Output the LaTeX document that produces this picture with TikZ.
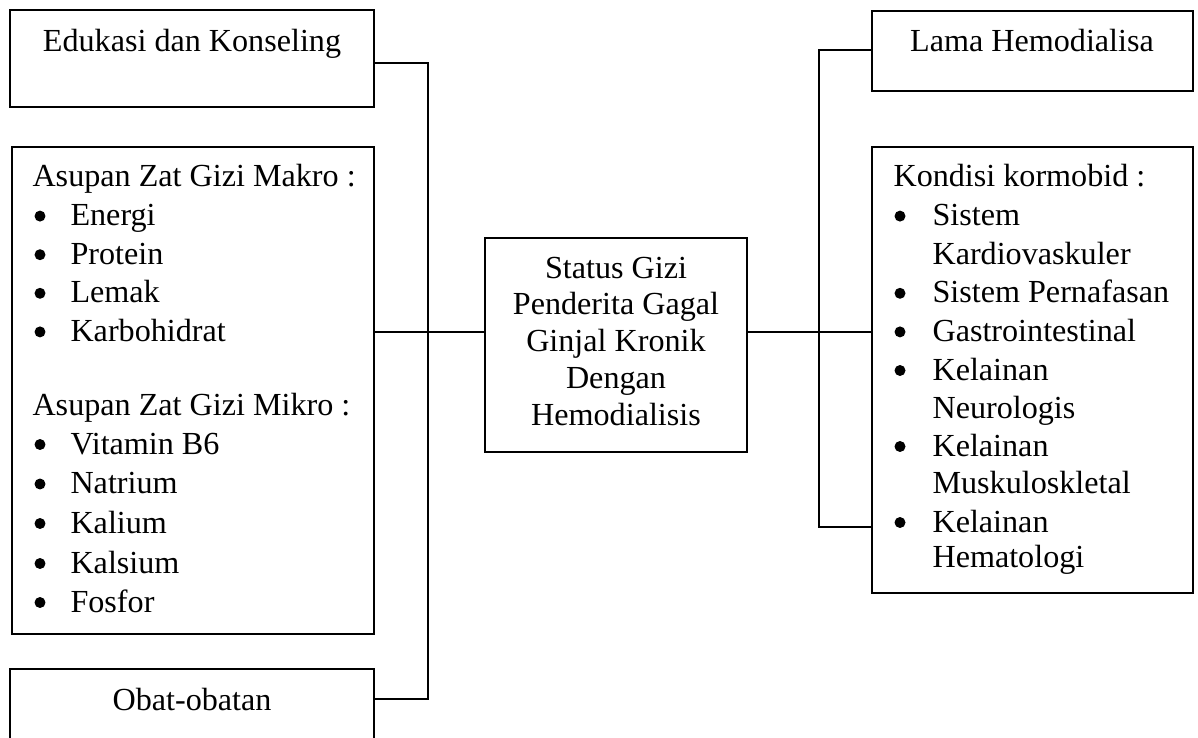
\documentclass[tikz,border=0pt]{standalone}
\usepackage{fontspec}
\setmainfont{Liberation Serif}
\usetikzlibrary{fit,calc}
\tikzset{
  box/.style={draw=black, line width=0.55pt, inner sep=0pt, fill=none},
  conn/.style={draw=black, line width=0.8pt, line join=miter},
  txt/.style={inner sep=0pt, font=\fontsize{12}{14}\selectfont},
  bul/.style={fill=black}
}
\begin{document}
\begin{tikzpicture}[x=0.3733pt,y=-0.3733pt]
\useasboundingbox (0,0) rectangle (1198,738);
\clip (0,0) rectangle (1198,738);
\fill[white] (0,0) rectangle (1198,738);

% boxes
\node[box, fit={(10,10) (374,107)}] (ed) {};
\node[box, fit={(12,147) (374,634)}] (as) {};
\node[box, fit={(10,669) (374,770)}] (ob) {};
\node[box, fit={(485,238) (747,452)}] (ce) {};
\node[box, fit={(872,11) (1193,91)}] (la) {};
\node[box, fit={(872,147) (1193,593)}] (ko) {};

% texts
\node[txt, anchor=base] (ted) at (192,52) {Edukasi dan Konseling};
\node[txt, anchor=base] (tob) at (192,710) {Obat-obatan};
\node[txt, anchor=base] (tla) at (1032,52) {Lama Hemodialisa};

\node[txt, anchor=base] (c1) at (616,278) {Status Gizi};
\node[txt, anchor=base] (c2) at (616,314.5) {Penderita Gagal};
\node[txt, anchor=base] (c3) at (616,351) {Ginjal Kronik};
\node[txt, anchor=base] (c4) at (616,388) {Dengan};
\node[txt, anchor=base] (c5) at (616,425) {Hemodialisis};

% left list
\node[txt, anchor=base west] (l0) at (32,187) {Asupan Zat Gizi Makro :};
\node[txt, anchor=base west] (l1) at (70,225.6) {Energi};
\node[txt, anchor=base west] (l2) at (70,264.2) {Protein};
\node[txt, anchor=base west] (l3) at (70,302.8) {Lemak};
\node[txt, anchor=base west] (l4) at (70,341.4) {Karbohidrat};
\node[txt, anchor=base west] (l5) at (32,415.5) {Asupan Zat Gizi Mikro :};
\node[txt, anchor=base west] (l6) at (70,454) {Vitamin B6};
\node[txt, anchor=base west] (l7) at (70,493.5) {Natrium};
\node[txt, anchor=base west] (l8) at (70,533) {Kalium};
\node[txt, anchor=base west] (l9) at (70,573) {Kalsium};
\node[txt, anchor=base west] (l10) at (70,612) {Fosfor};
\foreach \y in {225.6,264.2,302.8,341.4,454,493.5,533,573,612}
  \fill[bul] (40,\y-9.5) circle (2.05pt);

% right list
\node[txt, anchor=base west] (r0) at (893,187) {Kondisi kormobid :};
\node[txt, anchor=base west] (r1) at (932,225.6) {Sistem};
\node[txt, anchor=base west] (r2) at (932,264.2) {Kardiovaskuler};
\node[txt, anchor=base west] (r3) at (932,302.8) {Sistem Pernafasan};
\node[txt, anchor=base west] (r4) at (932,341.4) {Gastrointestinal};
\node[txt, anchor=base west] (r5) at (932,380) {Kelainan};
\node[txt, anchor=base west] (r6) at (932,418) {Neurologis};
\node[txt, anchor=base west] (r7) at (932,456) {Kelainan};
\node[txt, anchor=base west] (r8) at (932,493.5) {Muskuloskletal};
\node[txt, anchor=base west] (r9) at (932,532) {Kelainan};
\node[txt, anchor=base west] (r10) at (932,567.5) {Hematologi};
\foreach \y in {225.6,302.8,341.4,380,456,532}
  \fill[bul] (900,\y-9.5) circle (2.05pt);

% connectors
\coordinate (vl1) at (428,63);
\coordinate (vl2) at (428,699);
\coordinate (hl) at (0,332);
\coordinate (vr1) at (819,50);
\coordinate (vr2) at (819,527);
\draw[conn] (ed.east |- vl1) -- (vl1) -- (vl2) -- (ob.east |- vl2);
\draw[conn] (as.east |- hl) -- (ce.west |- hl);
\draw[conn] (ce.east |- hl) -- (ko.west |- hl);
\draw[conn] (la.west |- vr1) -- (vr1) -- (vr2) -- (ko.west |- vr2);
\end{tikzpicture}
\end{document}
